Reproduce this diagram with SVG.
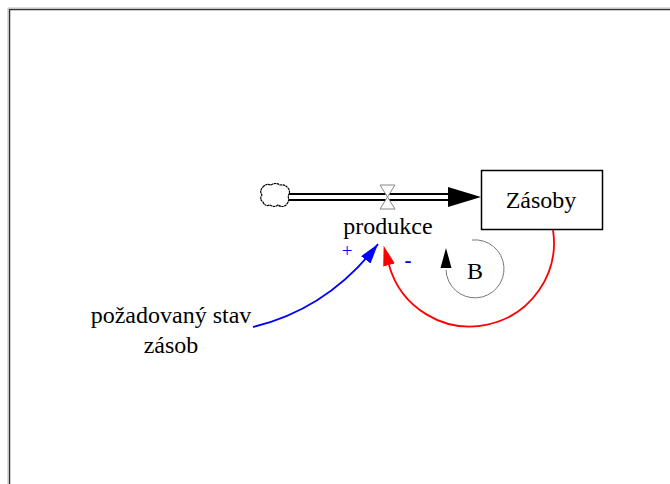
<svg xmlns="http://www.w3.org/2000/svg" width="670" height="484" viewBox="0 0 670 484">
<defs>
<style>
text{font-family:"Liberation Serif","Times New Roman",serif;font-size:24px;fill:#000}
.pol{fill:#0000ff}
</style>
<marker id="ab" markerWidth="20" markerHeight="12" refX="20" refY="6" orient="auto" markerUnits="userSpaceOnUse"><path d="M0,0 L20,6 L0,12 Z" fill="#0000ff"/></marker>
<marker id="ar" markerWidth="20" markerHeight="12" refX="0" refY="6" orient="auto" markerUnits="userSpaceOnUse"><path d="M0,0 L20,6 L0,12 Z" fill="#ff0000"/></marker>
</defs>
<rect width="670" height="484" fill="#fff"/>
<path d="M9.5,484 V9.5 H670" fill="none" stroke="#333" stroke-width="1.5"/>
<path d="M8,484 V8 H670" fill="none" stroke="#bbb" stroke-width="1"/>
<g id="cloud">
<path d="M263,187 q3,-4 8,-2 q4,-3 9,0 q5,-1 8,3 q3,4 0,8 q2,5 -2,9 q-4,3 -8,0 q-4,3 -8,0 q-5,2 -7,-3 q-4,-3 -1,-7 q-3,-4 1,-8 Z" fill="#fff" stroke="#000" stroke-width="1.2" stroke-dasharray="2.5,0.5"/>
</g>
<g id="flow-produkce">
<line x1="289" y1="197" x2="452" y2="197" stroke="#000" stroke-width="8"/>
<line x1="289" y1="197" x2="452" y2="197" stroke="#fff" stroke-width="4"/>
<path d="M448,187 L481,197 L448,207 Z" fill="#000"/>
<path d="M380,185 L395,185 L387.5,197 Z M387.5,197 L380,209 L395,209 Z" fill="#fff" stroke="#888" stroke-width="1"/>
<text x="388" y="234" text-anchor="middle">produkce</text>
</g>
<g id="zasoby">
<rect x="481.5" y="170.5" width="121" height="59" fill="#fff" stroke="#000" stroke-width="1.5"/>
<text x="541" y="208" text-anchor="middle">Zásoby</text>
</g>
<g id="pozadovany">
<text x="171" y="323" text-anchor="middle">požadovaný stav</text>
<text x="171" y="353" text-anchor="middle">zásob</text>
</g>
<g id="connectors">
<path d="M253,327 Q328,309 378,244" fill="none" stroke="#0000ff" stroke-width="1.8" marker-end="url(#ab)"/>
<path d="M553,230 A84,84 0 0 1 389,265" fill="none" stroke="#ff0000" stroke-width="1.8" marker-end="url(#ar)"/>
<text class="pol" x="347" y="257" text-anchor="middle" style="font-size:19px">+</text>
<text class="pol" x="408" y="267" text-anchor="middle" style="font-size:21px;font-weight:bold">-</text>
</g>
<g id="loop-B">
<path d="M472,240 A29,29 0 1 1 446,270" fill="none" stroke="#777" stroke-width="1"/>
<path d="M446,248 L440.5,268 L451.5,268 Z" fill="#000"/>
<text x="475" y="279" text-anchor="middle">B</text>
</g>
</svg>
